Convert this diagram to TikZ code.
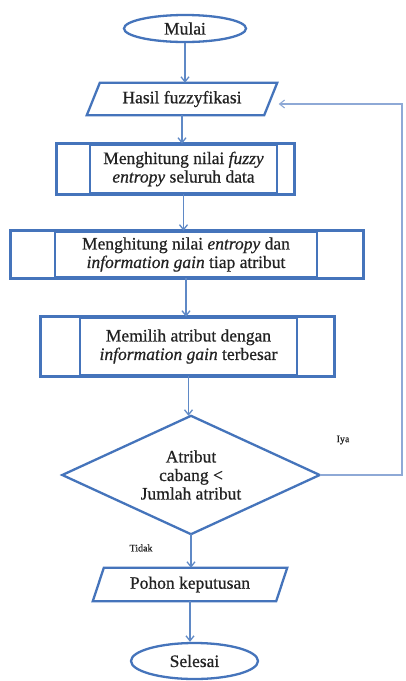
\documentclass[tikz,border=0pt]{standalone}
\usepackage{fontspec}
\setmainfont{Liberation Serif}
\newfontfamily\tnr[FakeBold=0.6]{Liberation Serif}
\usetikzlibrary{shapes.geometric,arrows.meta,calc}
\definecolor{boxblue}{HTML}{4574BB}
\definecolor{arrblue}{HTML}{5F89C6}
\definecolor{loopblue}{HTML}{8EA9D6}
\definecolor{txt}{HTML}{222222}
\begin{document}
\begin{tikzpicture}[x=1pt,y=-1pt,
  every node/.style={text=txt, font=\tnr\fontsize{17.5}{18.5}\selectfont, inner sep=0pt, align=center},
  term/.style={ellipse, draw=boxblue, line width=2.3pt, fill=white},
  procbox/.style={rectangle, draw=boxblue, line width=2.6pt},
  iobox/.style={rectangle},
  ioline/.style={draw=boxblue, line width=2.3pt, line join=miter},
  arr/.style={draw=arrblue, line width=1.3pt, -{Straight Barb[length=5pt,width=8pt]}},
  loopline/.style={draw=loopblue, line width=1.1pt, -{Straight Barb[length=5pt,width=8pt]}},
  small/.style={font=\tnr\fontsize{10}{11}\selectfont}]
\useasboundingbox (0,0) rectangle (406,681);
\fill[white] (0,0) rectangle (406,681);

% nodes
\node[term, minimum width=122pt, minimum height=27pt] (mulai) at (185,28.5) {Mulai};
\node[iobox, minimum width=177pt, minimum height=32pt] (hasil) at (182,99) {Hasil fuzzyfikasi};
\node[procbox, minimum width=187pt, minimum height=48pt] (box1) at (183.5,169) {Menghitung nilai \textit{fuzzy}\\\textit{entropy} seluruh data};
\node[procbox, minimum width=262pt, minimum height=45pt] (box2) at (186,254.5) {Menghitung nilai \textit{entropy} dan\\\textit{information gain} tiap atribut};
\node[procbox, minimum width=217pt, minimum height=57pt] (box3) at (188.5,346.5) {Memilih atribut dengan\\\textit{information gain} terbesar};
\node[iobox, minimum width=257pt, minimum height=118pt] (dia) at (191,475) {Atribut\\cabang <\\Jumlah atribut};
\node[iobox, minimum width=183pt, minimum height=33pt] (pohon) at (190,584.5) {Pohon keputusan};
\node[term, minimum width=127pt, minimum height=36pt] (selesai) at (194.5,661) {Selesai};
\node[small] (iya) at (343,440) {Iya};
\node[small] (tidak) at (141,548) {Tidak};
\coordinate (rt) at (402,0);

% shapes drawn from node anchors
\draw[ioline] ($(hasil.north west)+(6.5,0)$) -- ($(hasil.north east)+(6.5,0)$) -- ($(hasil.south east)+(-6.5,0)$) -- ($(hasil.south west)+(-6.5,0)$) -- cycle;
\draw[ioline] ($(pohon.north west)+(5.5,0)$) -- ($(pohon.north east)+(5.5,0)$) -- ($(pohon.south east)+(-5.5,0)$) -- ($(pohon.south west)+(-5.5,0)$) -- cycle;
\draw[ioline] (dia.north) -- (dia.east) -- (dia.south) -- (dia.west) -- cycle;
\draw[procbox] ($(box1.north west)+(-32,0)$) rectangle ($(box1.south east)+(16,0)$);
\draw[procbox] ($(box2.north west)+(-43,0)$) rectangle ($(box2.south east)+(45,0)$);
\draw[procbox] ($(box3.north west)+(-38,0)$) rectangle ($(box3.south east)+(36,0)$);

% connectors
\draw[arr] (mulai.south) -- (mulai.south |- hasil.north);
\draw[arr] (hasil.south) -- (hasil.south |- box1.north);
\draw[arr] (box1.south) -- (box1.south |- box2.north);
\draw[arr] (box2.south) -- (box2.south |- box3.north);
\draw[arr] (box3.south) -- (box3.south |- dia.north);
\draw[arr] (dia.south) -- (dia.south |- pohon.north);
\draw[arr] (pohon.south) -- (pohon.south |- selesai.north);
\draw[loopline] (dia.east) -- (dia.east -| rt) |- ($(hasil.east)+(8,5)$);
\end{tikzpicture}
\end{document}
